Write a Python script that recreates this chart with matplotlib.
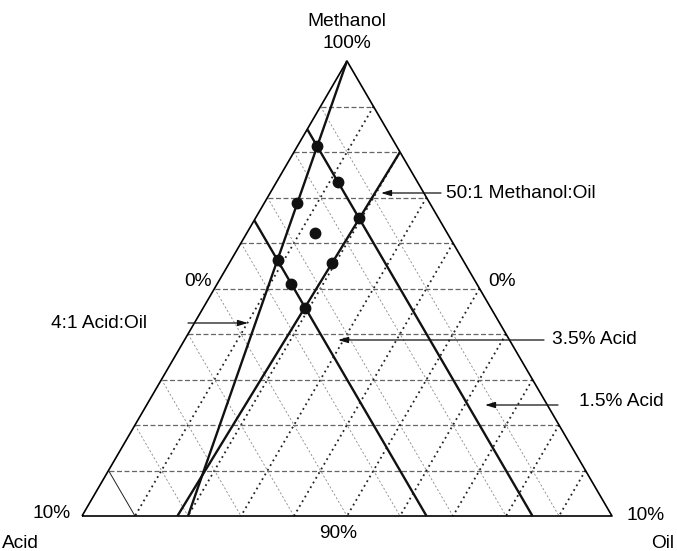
"""Diagrama ternario (zona rica en metanol): metanol 90-100 %, acido y aceite 0-10 %."""
import numpy as np
import matplotlib
matplotlib.use("Agg")
import matplotlib.pyplot as plt
from matplotlib.transforms import Affine2D

plt.rcParams["font.family"] = ["Liberation Sans", "DejaVu Sans"]

# puntos experimentales (% en peso)
acid_pts = [1.5, 1.5, 2.5, 1.5, 2.5, 3.5, 2.5, 3.5, 3.5]
oil_pts = [0.37, 1.17, 0.63, 1.96, 1.28, 0.88, 1.94, 1.40, 1.93]
meth_pts = [100 - a - o for a, o in zip(acid_pts, oil_pts)]

# lineas de acido constante
acid_levels = [1.5, 3.5]
acid_labels = ["1.5% Acid", "3.5% Acid"]

# lineas de razon (extremos oil/metanol)
ratio_5001_oil = [2.0, 1.8]
ratio_5001_meth = [98.0, 90.0]
ratio_41_oil = [0.0, 2.0]
ratio_41_meth = [100.0, 90.0]

grid_pct = [1, 2, 3, 4, 5, 6, 7, 8, 9]

# coordenadas de pantalla (px) del triangulo
XL, YB, PX_O, PX_M = 82, 516, 53.0, 45.5

fig = plt.figure(figsize=(6.77, 5.51), dpi=100)
ax = fig.add_axes([0, 0, 1, 1])
ax.set_xlim(0, 677); ax.set_ylim(551, 0); ax.axis("off")

# (oil, metanol) -> px
tern = Affine2D.from_values(PX_O, 0, PX_O / 2, -PX_M,
                            XL - PX_O / 2 * 90, YB + PX_M * 90) + ax.transData

def tline(oil, meth, **kw):
    ax.plot(oil, meth, transform=tern, solid_capstyle="butt", **kw)

# rejilla
for p in grid_pct:
    m = 90 + p
    tline([0, 100 - m], [m, m], color="#666666", lw=0.9, ls=(0, (4, 2)))        # metanol cte
    tline([p, p], [100 - p, 90], color="#222222", lw=1.3, ls=(0, (1, 2.0)))      # aceite cte
    if p == 9:
        tline([0, 10 - p], [100 - p, 90], color="#222222", lw=0.7)
    else:
        tline([0, 10 - p], [100 - p, 90], color="#888888", lw=0.6, ls=(0, (2.5, 2.5)))  # acido cte

# bordes
tline([0, 10, 0, 0], [90, 90, 100, 90], color="black", lw=1.2)

# lineas gruesas
for a in acid_levels:
    tline([0, 10 - a], [100 - a, 90], color="#111111", lw=1.7)
tline(ratio_5001_oil, ratio_5001_meth, color="#111111", lw=1.7)
tline(ratio_41_oil, ratio_41_meth, color="#111111", lw=1.7)

ax.plot(oil_pts, meth_pts, "o", color="#111111", ms=7.5, transform=tern)

fs = 13.8
ax.text(347, 22, "Methanol", ha="center", va="center", fontsize=fs)
ax.text(347, 43, "100%", ha="center", va="center", fontsize=fs)
ax.text(212, 282, "0%", ha="right", va="center", fontsize=fs)
ax.text(488, 282, "0%", ha="left", va="center", fontsize=fs)
ax.text(71, 514, "10%", ha="right", va="center", fontsize=fs)
ax.text(2, 543, "Acid", ha="left", va="center", fontsize=fs)
ax.text(338, 534, "90%", ha="center", va="center", fontsize=fs)
ax.text(627, 516, "10%", ha="left", va="center", fontsize=fs)
ax.text(674, 543, "Oil", ha="right", va="center", fontsize=fs)

arrow = dict(arrowstyle="-|>,head_length=0.6,head_width=0.18", color="#111111", lw=0.9,
             shrinkA=0, shrinkB=0)
ax.text(51, 324, "4:1 Acid:Oil", ha="left", va="center", fontsize=fs)
ax.annotate("", xy=(248, 323), xytext=(188, 323), arrowprops=arrow)
ax.text(446, 194, "50:1 Methanol:Oil", ha="left", va="center", fontsize=fs)
ax.annotate("", xy=(381, 193), xytext=(441, 193), arrowprops=arrow)
ax.text(552, 340, acid_labels[1], ha="left", va="center", fontsize=fs)
ax.annotate("", xy=(338, 340), xytext=(544, 340), arrowprops=arrow)
ax.text(579, 401, acid_labels[0], ha="left", va="center", fontsize=fs)
ax.annotate("", xy=(485, 405), xytext=(558, 405), arrowprops=arrow)

fig.savefig("out.png", dpi=100)
